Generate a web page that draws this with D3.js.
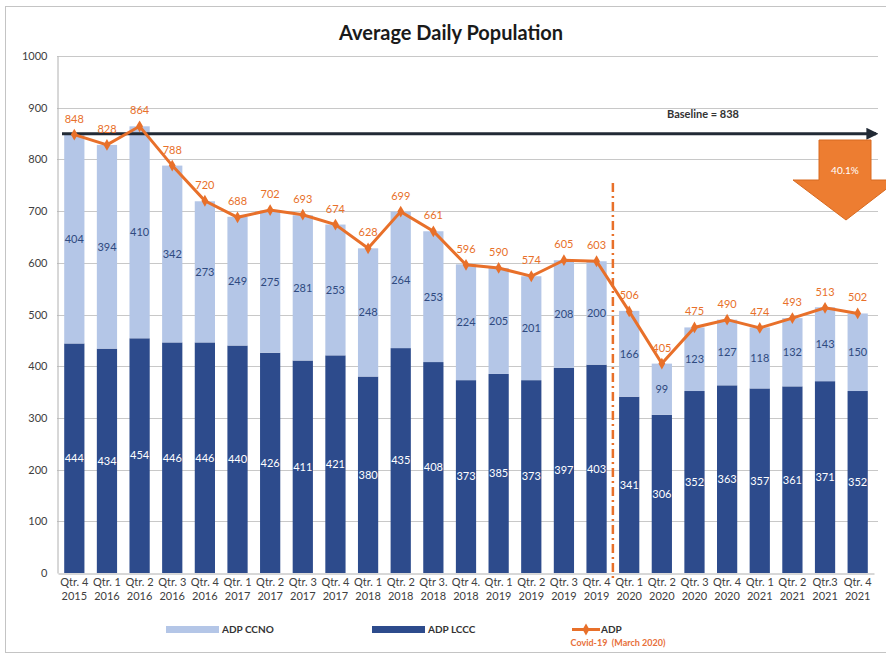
<!DOCTYPE html>
<html>
<head>
<meta charset="utf-8">
<script src="https://cdn.jsdelivr.net/npm/d3@7"></script>
<style>
  html, body { margin: 0; padding: 0; background: #fff; }
  svg { display: block; font-family: Lato, "Open Sans", sans-serif; }
</style>
</head>
<body>
<div id="chart"></div>
<script>
// Quarter / year labels along the x axis
const quarters = ['Qtr. 4', 'Qtr. 1', 'Qtr. 2', 'Qtr. 3', 'Qtr. 4', 'Qtr. 1', 'Qtr. 2', 'Qtr. 3',
  'Qtr. 4', 'Qtr. 1', 'Qtr. 2', 'Qtr 3.', 'Qtr 4.', 'Qtr. 1', 'Qtr. 2', 'Qtr. 3', 'Qtr. 4',
  'Qtr. 1', 'Qtr. 2', 'Qtr. 3', 'Qtr. 4', 'Qtr. 1', 'Qtr. 2', 'Qtr.3', 'Qtr. 4'];
const years = ['2015', '2016', '2016', '2016', '2016', '2017', '2017', '2017', '2017',
  '2018', '2018', '2018', '2018', '2019', '2019', '2019', '2019',
  '2020', '2020', '2020', '2020', '2021', '2021', '2021', '2021'];

// Series
const adpLccc = [444, 434, 454, 446, 446, 440, 426, 411, 421, 380, 435, 408, 373,
  385, 373, 397, 403, 341, 306, 352, 363, 357, 361, 371, 352];
const adpCcno = [404, 394, 410, 342, 273, 249, 275, 281, 253, 248, 264, 253, 224,
  205, 201, 208, 200, 166, 99, 123, 127, 118, 132, 143, 150];
const adpTotal = [848, 828, 864, 788, 720, 688, 702, 693, 674, 628, 699, 661, 596,
  590, 574, 605, 603, 506, 405, 475, 490, 474, 493, 513, 502];

const yTicks = [0, 100, 200, 300, 400, 500, 600, 700, 800, 900, 1000];
const baseline = 838;
const covidIndex = 17; // first quarter after Covid-19 (March 2020)
const dropLabel = '40.1%';

const W = 886, H = 654;
const colors = {
  light: '#b4c6e7',
  dark: '#2d4b8c',
  orange: '#e8702a',
  grid: '#c8c8c8',
  text: '#404040'
};

const svg = d3.select('#chart').append('svg')
  .attr('width', W)
  .attr('height', H);

// outer frame
svg.append('rect')
  .attr('x', 5.5).attr('y', 6.5)
  .attr('width', W - 4).attr('height', 646)
  .attr('fill', '#fff')
  .attr('stroke', '#c4c4c4');

const x = d3.scaleBand()
  .domain(d3.range(quarters.length))
  .range([58, 874])
  .paddingInner(0.38)
  .paddingOuter(0.19);

const y = d3.scaleLinear()
  .domain([0, 1000])
  .range([573, 56]);

const cx = i => x(i) + x.bandwidth() / 2;

// gridlines
svg.append('g').attr('class', 'grid')
  .selectAll('line')
  .data(yTicks.filter(d => d > 0))
  .enter().append('line')
  .attr('x1', 57).attr('x2', 878)
  .attr('y1', d => Math.round(y(d)) + 0.5)
  .attr('y2', d => Math.round(y(d)) + 0.5)
  .attr('stroke', colors.grid);

// y axis
const yAxis = svg.append('g')
  .attr('transform', 'translate(57.5,0)')
  .call(d3.axisLeft(y).tickValues(yTicks).tickFormat(d3.format('d')).tickSize(0).tickPadding(10));
yAxis.select('.domain').attr('stroke', '#b0b0b0');
yAxis.selectAll('text')
  .attr('font-size', 11)
  .attr('fill', colors.text)
  .attr('font-family', 'Lato, sans-serif');

// stacked bars
const bars = svg.append('g').attr('class', 'bars');
bars.selectAll('.lccc')
  .data(adpLccc)
  .enter().append('rect')
  .attr('class', 'lccc')
  .attr('x', (d, i) => x(i))
  .attr('width', x.bandwidth())
  .attr('y', d => y(d))
  .attr('height', d => y(0) - y(d))
  .attr('fill', colors.dark);

bars.selectAll('.ccno')
  .data(adpCcno)
  .enter().append('rect')
  .attr('class', 'ccno')
  .attr('x', (d, i) => x(i))
  .attr('width', x.bandwidth())
  .attr('y', (d, i) => y(d + adpLccc[i]))
  .attr('height', (d, i) => y(adpLccc[i]) - y(d + adpLccc[i]))
  .attr('fill', colors.light);

// x axis
const xAxis = svg.append('g')
  .attr('transform', 'translate(0,' + (y(0) + 0.5) + ')')
  .call(d3.axisBottom(x).tickSize(0).tickPadding(12).tickFormat(''));
xAxis.select('.domain').attr('stroke', '#b0b0b0');
xAxis.selectAll('.tick text').each(function(d) {
  const t = d3.select(this)
    .attr('font-size', 11)
    .attr('fill', colors.text)
    .attr('font-family', 'Lato, sans-serif');
  t.append('tspan').attr('x', 0).attr('dy', 0).text(quarters[d]);
  t.append('tspan').attr('x', 0).attr('dy', 14).text(years[d]);
});

// bar labels
svg.append('g').selectAll('text')
  .data(adpLccc)
  .enter().append('text')
  .attr('x', (d, i) => cx(i))
  .attr('y', d => y(d / 2))
  .attr('dy', '0.35em')
  .attr('text-anchor', 'middle')
  .attr('font-size', 11)
  .attr('fill', '#fff')
  .text(d => d);

svg.append('g').selectAll('text')
  .data(adpCcno)
  .enter().append('text')
  .attr('x', (d, i) => cx(i))
  .attr('y', (d, i) => y(adpLccc[i] + d / 2))
  .attr('dy', '0.35em')
  .attr('text-anchor', 'middle')
  .attr('font-size', 11)
  .attr('fill', '#2f4a80')
  .text(d => d);

// baseline arrow
svg.append('defs').append('marker')
  .attr('id', 'arrowhead')
  .attr('viewBox', '0 0 10 10')
  .attr('refX', 8).attr('refY', 5)
  .attr('markerWidth', 4).attr('markerHeight', 4)
  .attr('orient', 'auto')
  .append('path')
  .attr('d', 'M0,0L10,5L0,10z')
  .attr('fill', '#222a35');

svg.append('line')
  .attr('x1', 62).attr('x2', 876)
  .attr('y1', y(baseline) - 6).attr('y2', y(baseline) - 6)
  .attr('stroke', '#222a35')
  .attr('stroke-width', 3)
  .attr('marker-end', 'url(#arrowhead)');

svg.append('text')
  .attr('x', 703).attr('y', y(baseline) - 22)
  .attr('text-anchor', 'middle')
  .attr('font-size', 11)
  .attr('font-weight', 'bold')
  .attr('fill', '#333')
  .text('Baseline = ' + baseline);

// covid divider
const covidX = x(covidIndex) - x.step() * x.paddingInner() / 2;
svg.append('line')
  .attr('x1', covidX).attr('x2', covidX)
  .attr('y1', 183).attr('y2', 580)
  .attr('stroke', colors.orange)
  .attr('stroke-width', 2.5)
  .attr('stroke-dasharray', '9 4 2 4');

// ADP line
const line = d3.line()
  .x((d, i) => cx(i))
  .y(d => y(d));

svg.append('path')
  .datum(adpTotal)
  .attr('d', line)
  .attr('fill', 'none')
  .attr('stroke', colors.orange)
  .attr('stroke-width', 3);

svg.append('g').selectAll('path')
  .data(adpTotal)
  .enter().append('path')
  .attr('d', d3.symbol(d3.symbolDiamond, 40))
  .attr('transform', (d, i) => 'translate(' + cx(i) + ',' + y(d) + ')')
  .attr('fill', colors.orange);

svg.append('g').selectAll('text')
  .data(adpTotal)
  .enter().append('text')
  .attr('x', (d, i) => cx(i))
  .attr('y', d => y(d) - 12)
  .attr('text-anchor', 'middle')
  .attr('font-size', 11)
  .attr('fill', colors.orange)
  .text(d => d);

// big drop arrow
svg.append('path')
  .attr('d', 'M819,140 L871,140 L871,180 L898,180 L846,220 L793,180 L819,180 Z')
  .attr('fill', '#ed7d31')
  .attr('stroke', '#d86a20')
  .attr('stroke-width', 1);
svg.append('text')
  .attr('x', 845).attr('y', 174)
  .attr('text-anchor', 'middle')
  .attr('font-size', 10)
  .attr('fill', '#fff')
  .text(dropLabel);

// title
svg.append('text')
  .attr('x', 451).attr('y', 40)
  .attr('text-anchor', 'middle')
  .attr('font-size', 20)
  .attr('font-weight', 'bold')
  .attr('fill', '#1a1a1a')
  .text('Average Daily Population');

// legend
const legend = svg.append('g').attr('font-size', 10).attr('font-weight', 'bold').attr('fill', '#333');
legend.append('rect').attr('x', 166).attr('y', 626).attr('width', 53).attr('height', 7).attr('fill', colors.light);
legend.append('text').attr('x', 222).attr('y', 633).text('ADP CCNO');
legend.append('rect').attr('x', 372).attr('y', 626).attr('width', 53).attr('height', 7).attr('fill', colors.dark);
legend.append('text').attr('x', 428).attr('y', 633).text('ADP LCCC');
legend.append('line').attr('x1', 572).attr('x2', 600).attr('y1', 629.5).attr('y2', 629.5)
  .attr('stroke', colors.orange).attr('stroke-width', 3);
legend.append('path').attr('d', d3.symbol(d3.symbolDiamond, 40))
  .attr('transform', 'translate(586,629.5)').attr('fill', colors.orange);
legend.append('text').attr('x', 601).attr('y', 633).text('ADP');

svg.append('text')
  .attr('x', 618).attr('y', 646)
  .attr('text-anchor', 'middle')
  .attr('font-size', 9)
  .attr('font-weight', 'bold')
  .attr('fill', '#e8703a')
  .attr('xml:space', 'preserve')
  .text('Covid-19  (March 2020)');
</script>
</body>
</html>
